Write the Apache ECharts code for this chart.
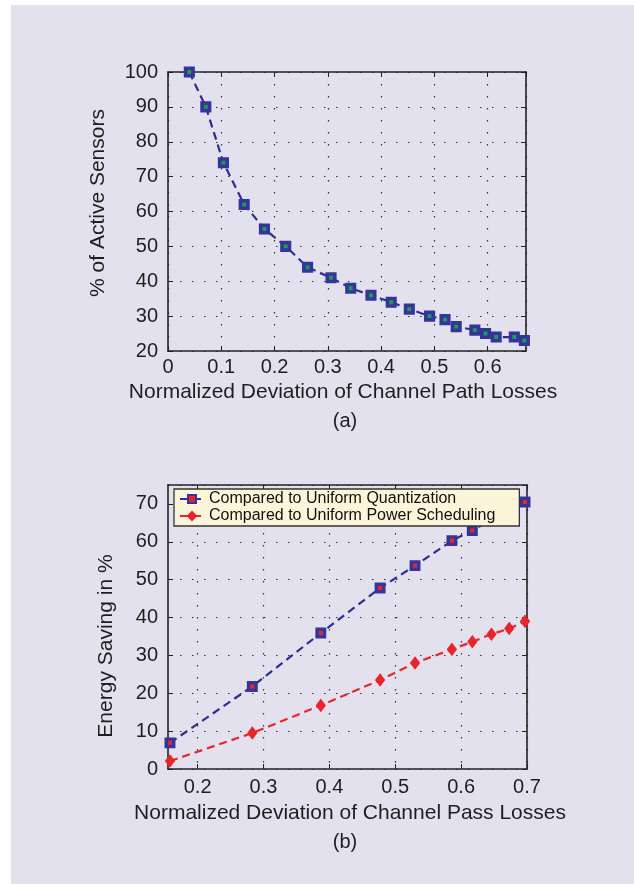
<!DOCTYPE html>
<html>
<head>
<meta charset="utf-8">
<script src="https://cdn.jsdelivr.net/npm/echarts@6/dist/echarts.min.js"></script>
<style>
html,body{margin:0;padding:0;background:#ffffff;}
#c{width:634px;height:884px;}
</style>
</head>
<body>
<div id="c"></div>
<script>
// ---- Data (a) ----
const xA = [0.040,0.071,0.104,0.143,0.181,0.221,0.262,0.306,0.343,0.381,0.419,0.453,0.491,0.520,0.541,0.576,0.596,0.616,0.650,0.669];
const activeSensors = [100,90,74,62,55,50,44,41,38,36,34,32,30,29,27,26,25,24,24,23];
// ---- Data (b) ----
const xBQuant = [0.158,0.283,0.387,0.477,0.530,0.586,0.617,0.697];
const savingQuant = [6.9,21.8,35.9,47.8,53.7,60.3,63.0,70.5];
const xBPower = [0.158,0.283,0.387,0.477,0.530,0.586,0.617,0.646,0.673,0.697];
const savingPower = [2.1,9.5,16.8,23.5,28.0,31.6,33.6,35.6,37.1,39.0];
// ---- Tick values for (b) x axis ----
const xTicksB = [0.2, 0.3, 0.4, 0.5, 0.6, 0.7];
// ---- Labels ----
const nameQuant = 'Compared to Uniform Quantization';
const namePower = 'Compared to Uniform Power Scheduling';
const titleXA = 'Normalized Deviation of Channel Path Losses';
const titleYA = '% of Active Sensors';
const titleXB = 'Normalized Deviation of Channel Pass Losses';
const titleYB = 'Energy Saving in %';

const zip = (xs, ys) => xs.map((x, i) => [x, ys[i]]);

const FONT = 'Liberation Sans, Arial, Helvetica, sans-serif';
const TXT = '#1e1e1e';
const AXC = '#222';
const BLUE = '#2e2e92';
const RED = '#e8252b';
const GREEN = '#19a04c';
const GRIDLINE = { show: true, lineStyle: { color: '#333', width: 1.2, type: [1.5, 10.5] } };

function axisLine() { return { show: true, onZero: false, lineStyle: { color: AXC, width: 1.6 } }; }
function tick(custom) {
  const t = { show: true, inside: true, length: 5, lineStyle: { color: AXC, width: 1 } };
  if (custom) t.customValues = custom;
  return t;
}

const chart = echarts.init(document.getElementById('c'), null, { renderer: 'canvas' });

const option = {
  animation: false,
  backgroundColor: 'transparent',
  textStyle: { fontFamily: FONT },
  graphic: [
    { type: 'rect', z: -10, shape: { x: 11, y: 5, width: 623, height: 879 }, style: { fill: '#e4e1ef' } },
    { type: 'text', x: 98, y: 203, rotation: Math.PI / 2, style: { text: titleYA, font: '21px ' + FONT, fill: TXT, align: 'center', verticalAlign: 'middle' } },
    { type: 'text', x: 343, y: 392, style: { text: titleXA, font: '21px ' + FONT, fill: TXT, align: 'center', verticalAlign: 'middle' } },
    { type: 'text', x: 345, y: 421, style: { text: '(a)', font: '20px ' + FONT, fill: TXT, align: 'center', verticalAlign: 'middle' } },
    { type: 'text', x: 106, y: 646, rotation: Math.PI / 2, style: { text: titleYB, font: '21px ' + FONT, fill: TXT, align: 'center', verticalAlign: 'middle' } },
    { type: 'text', x: 350, y: 813, style: { text: titleXB, font: '21px ' + FONT, fill: TXT, align: 'center', verticalAlign: 'middle' } },
    { type: 'text', x: 345, y: 842, style: { text: '(b)', font: '20px ' + FONT, fill: TXT, align: 'center', verticalAlign: 'middle' } }
  ],
  grid: [
    { left: 168, top: 72, width: 358, height: 279 },
    { left: 168, top: 485, width: 359, height: 284 }
  ],
  xAxis: [
    {
      type: 'value', gridIndex: 0, min: 0, max: 0.672, interval: 0.1, position: 'bottom',
      axisLine: axisLine(), axisTick: tick(),
      axisLabel: { fontFamily: FONT, fontSize: 20, color: TXT, margin: 6, showMaxLabel: false },
      splitLine: GRIDLINE
    },
    {
      type: 'value', gridIndex: 0, min: 0, max: 0.672, interval: 0.1, position: 'top',
      axisLine: axisLine(), axisTick: tick(), axisLabel: { show: false }, splitLine: { show: false }
    },
    {
      type: 'value', gridIndex: 1, min: 0.155, max: 0.7, position: 'bottom',
      axisLine: axisLine(), axisTick: tick(xTicksB),
      axisLabel: { fontFamily: FONT, fontSize: 20, color: TXT, margin: 8, customValues: xTicksB },
      splitLine: GRIDLINE
    },
    {
      type: 'value', gridIndex: 1, min: 0.155, max: 0.7, position: 'top',
      axisLine: axisLine(), axisTick: tick(xTicksB), axisLabel: { show: false }, splitLine: { show: false }
    }
  ],
  yAxis: [
    {
      type: 'value', gridIndex: 0, min: 20, max: 100, interval: 10, position: 'left',
      axisLine: axisLine(), axisTick: tick(),
      axisLabel: { fontFamily: FONT, fontSize: 20, color: TXT, margin: 10 },
      splitLine: GRIDLINE
    },
    {
      type: 'value', gridIndex: 0, min: 20, max: 100, interval: 10, position: 'right',
      axisLine: axisLine(), axisTick: tick(), axisLabel: { show: false }, splitLine: { show: false }
    },
    {
      type: 'value', gridIndex: 1, min: 0, max: 75, interval: 10, position: 'left',
      axisLine: axisLine(), axisTick: tick(),
      axisLabel: { fontFamily: FONT, fontSize: 20, color: TXT, margin: 10, showMaxLabel: false },
      splitLine: GRIDLINE
    },
    {
      type: 'value', gridIndex: 1, min: 0, max: 75, interval: 10, position: 'right',
      axisLine: axisLine(), axisTick: tick(), axisLabel: { show: false }, splitLine: { show: false }
    }
  ],
  legend: {
    left: 174, top: 489, orient: 'vertical',
    backgroundColor: '#fdf5d9', borderColor: '#333', borderWidth: 1.3,
    padding: [2, 24, 2, 5], itemGap: 1, itemWidth: 24, itemHeight: 10,
    textStyle: { fontFamily: FONT, fontSize: 16, color: '#111', lineHeight: 16 },
    data: [nameQuant, namePower]
  },
  series: [
    {
      type: 'line', xAxisIndex: 0, yAxisIndex: 0, data: zip(xA, activeSensors), clip: false,
      lineStyle: { color: BLUE, width: 2.2, type: [8, 5] },
      symbol: 'rect', symbolSize: 7.5,
      itemStyle: { color: GREEN, borderColor: '#34349c', borderWidth: 3.6 }
    },
    {
      name: nameQuant, type: 'line', xAxisIndex: 2, yAxisIndex: 2, data: zip(xBQuant, savingQuant), clip: false,
      lineStyle: { color: BLUE, width: 2.2, type: [8, 5] },
      symbol: 'rect', symbolSize: 7.5,
      itemStyle: { color: RED, borderColor: '#34349c', borderWidth: 3.4 }
    },
    {
      name: namePower, type: 'line', xAxisIndex: 2, yAxisIndex: 2, data: zip(xBPower, savingPower), clip: false,
      lineStyle: { color: RED, width: 2.2, type: [8, 5] },
      symbol: 'diamond', symbolSize: [9, 12],
      itemStyle: { color: RED, borderColor: RED, borderWidth: 1 }
    }
  ]
};
chart.setOption(option);
</script>
</body>
</html>
